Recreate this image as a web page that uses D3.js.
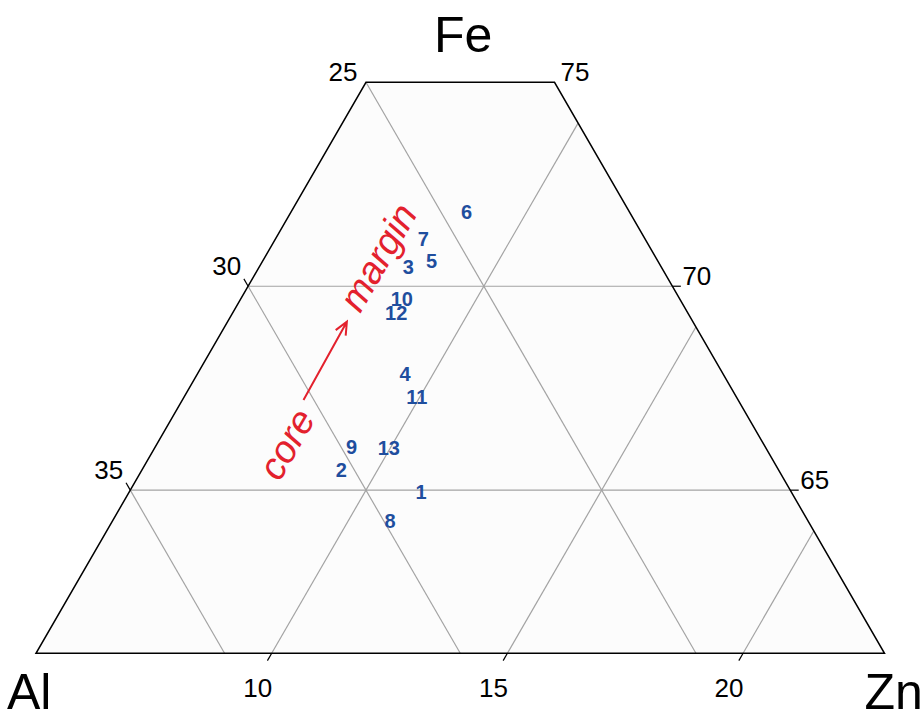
<!DOCTYPE html>
<html>
<head>
<meta charset="utf-8">
<script src="https://cdn.jsdelivr.net/npm/d3@7"></script>
<style>
  body { margin: 0; background: #fff; }
  text { font-family: "Liberation Sans", Arial, sans-serif; }
</style>
</head>
<body>
<script>
(function () {

// labels of this plot add up to 105, not 100
var total = 105;
var feRange = [61, 75],
    znMin = 5,
    alMin = 21;

var feTicks = [75, 70, 65];
var alTicks = [25, 30, 35];
var znTicks = [10, 15, 20];

var sampleIds = ["1", "2", "3", "4", "5", "6", "7", "8", "9", "10", "11", "12", "13"];
var sampleFe  = [64.96, 65.49, 70.46, 67.86, 70.62, 71.83, 71.17, 64.24, 66.05, 69.68, 67.28, 69.34, 66.03];
var sampleZn  = [11.19, 9.23, 8.17, 9.40, 8.58, 8.72, 8.13, 10.89, 9.17, 8.42, 9.94, 8.47, 9.97];

// core -> margin arrow, in Fe / Zn
var arrowFe = [67.21, 69.13];
var arrowZn = [7.57, 7.53];
var noteText = ["core", "margin"];
var noteFe = [65.97, 70.55];
var noteZn = [8.07, 7.72];

var width = 920,
    height = 710,
    t = 0.18; // tick length, in composition units

var x = d3.scaleLinear()
    .domain([znMin + feRange[0] / 2, total - alMin - feRange[0] / 2])
    .range([36, 884.5]);
var y = d3.scaleLinear()
    .domain(feRange)
    .range([653.3, 82.3]);

function proj(fe, zn) {
    return [x(zn + fe / 2), y(fe)];
}
function znRight(fe) { return total - alMin - fe; }

var line = d3.line();

var svg = d3.select("body").append("svg")
    .attr("width", width)
    .attr("height", height);

var fe0 = feRange[0], fe1 = feRange[1];

// plot area
svg.append("path")
    .attr("d", line([proj(fe0, znMin), proj(fe0, znRight(fe0)),
                     proj(fe1, znRight(fe1)), proj(fe1, znMin)]) + "Z")
    .attr("fill", "#fcfcfc")
    .attr("stroke", "none");

var grid = svg.append("g")
    .attr("stroke", "#a3a3a3")
    .attr("stroke-width", 1.2)
    .attr("fill", "none");

feTicks.filter(function (d) { return d < fe1; }).forEach(function (fe) {
    grid.append("path").attr("d", line([proj(fe, znMin), proj(fe, znRight(fe))]));
});
znTicks.forEach(function (zn) {
    var top = Math.min(fe1, total - alMin - zn);
    grid.append("path").attr("d", line([proj(fe0, zn), proj(top, zn)]));
});
alTicks.forEach(function (al) {
    var top = Math.min(fe1, total - al - znMin);
    grid.append("path").attr("d", line([proj(top, total - al - top), proj(fe0, total - al - fe0)]));
});

// outline
svg.append("path")
    .attr("d", line([proj(fe0, znMin), proj(fe0, znRight(fe0)),
                     proj(fe1, znRight(fe1)), proj(fe1, znMin)]) + "Z")
    .attr("fill", "none")
    .attr("stroke", "#000")
    .attr("stroke-width", 1.5);

var ticks = svg.append("g").attr("stroke", "#000").attr("stroke-width", 1.2);
var labels = svg.append("g").attr("font-size", 26).attr("fill", "#000");

// Fe, right side
feTicks.forEach(function (fe) {
    var p = proj(fe, znRight(fe));
    if (fe < fe1) {
        ticks.append("path").attr("d", line([p, proj(fe, znRight(fe) + t)]));
    }
    labels.append("text")
        .attr("x", p[0] + (fe < fe1 ? 10 : 6))
        .attr("y", p[1] - 1.5)
        .text(fe);
});

// Al, left side
alTicks.forEach(function (al) {
    var fe = total - al - znMin;
    var p = proj(fe, znMin);
    if (fe < fe1) {
        ticks.append("path").attr("d", line([p, proj(fe + t, znMin - t)]));
    }
    labels.append("text")
        .attr("text-anchor", "end")
        .attr("x", p[0] - (fe < fe1 ? 7 : 8.5))
        .attr("y", p[1] - (fe < fe1 ? 11 : 1.3))
        .text(al);
});

// Zn, bottom
znTicks.forEach(function (zn) {
    var p = proj(fe0, zn);
    ticks.append("path").attr("d", line([p, proj(fe0 - t, zn)]));
    labels.append("text")
        .attr("text-anchor", "middle")
        .attr("x", p[0] - 14)
        .attr("y", p[1] + 43.3)
        .text(zn);
});

// axis titles
var tl = proj(fe1, znMin), tr = proj(fe1, znRight(fe1)),
    bl = proj(fe0, znMin), br = proj(fe0, znRight(fe0));
var titles = svg.append("g").attr("font-size", 50).attr("fill", "#000");
titles.append("text").attr("text-anchor", "middle")
    .attr("x", (tl[0] + tr[0]) / 2 + 3).attr("y", 51.5).text("Fe");
titles.append("text").attr("x", bl[0] - 29).attr("y", bl[1] + 56).text("Al");
titles.append("text").attr("x", br[0] - 20).attr("y", br[1] + 56).text("Zn");

// samples
svg.append("g")
    .attr("font-size", 20)
    .attr("font-weight", "bold")
    .attr("fill", "#1f4e9e")
    .attr("text-anchor", "middle")
  .selectAll("text")
    .data(sampleIds)
  .enter().append("text")
    .attr("transform", function (d, i) {
        var p = proj(sampleFe[i], sampleZn[i]);
        return "translate(" + p[0] + "," + p[1] + ")";
    })
    .attr("dy", "0.35em")
    .text(function (d) { return d; });

// annotation
var red = "#e3212d";
var a0 = proj(arrowFe[0], arrowZn[0]), a1 = proj(arrowFe[1], arrowZn[1]);
var ang = Math.atan2(a1[1] - a0[1], a1[0] - a0[0]);
var head = 14, spread = 0.42;
svg.append("path")
    .attr("d", line([a0, a1]) + line([
        [a1[0] - head * Math.cos(ang - spread), a1[1] - head * Math.sin(ang - spread)],
        a1,
        [a1[0] - head * Math.cos(ang + spread), a1[1] - head * Math.sin(ang + spread)]]))
    .attr("fill", "none")
    .attr("stroke", red)
    .attr("stroke-width", 2);

svg.append("g")
    .attr("font-size", 38)
    .attr("font-style", "italic")
    .attr("fill", red)
    .attr("text-anchor", "middle")
  .selectAll("text")
    .data(noteText)
  .enter().append("text")
    .attr("transform", function (d, i) {
        var p = proj(noteFe[i], noteZn[i]);
        return "translate(" + p[0] + "," + p[1] + ") rotate(-60)";
    })
    .text(function (d) { return d; });

})();
</script>
</body>
</html>
